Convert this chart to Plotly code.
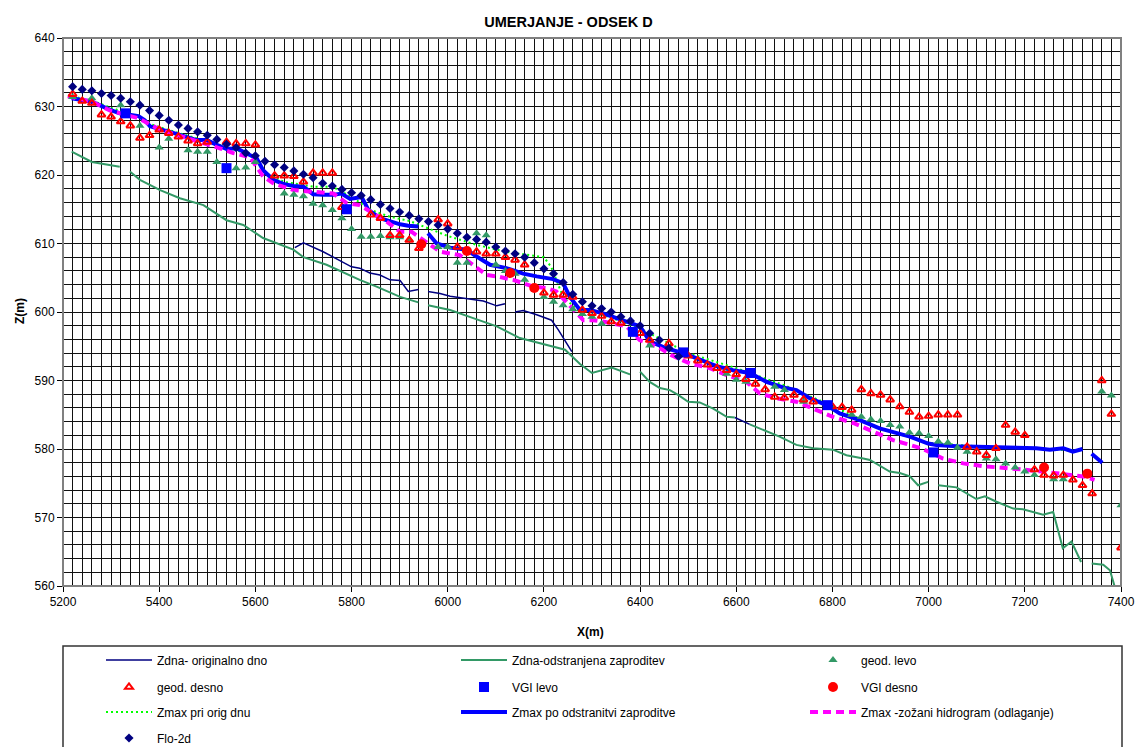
import plotly.graph_objects as go

# ---------------- data ----------------
flo_x = [5220, 5240, 5260, 5280, 5300, 5320, 5340, 5360, 5380, 5400, 5420, 5440, 5460, 5480, 5500, 5520,
         5540, 5560, 5580, 5600, 5620, 5640, 5660, 5680, 5700, 5720, 5740, 5760, 5780, 5800, 5820, 5840,
         5860, 5880, 5900, 5920, 5940, 5960, 5980, 6000, 6020, 6040, 6060, 6080, 6100, 6120, 6140, 6160,
         6180, 6200, 6220, 6240, 6260, 6280, 6300, 6320, 6340, 6360, 6380, 6400, 6420, 6440, 6460, 6480]
flo_z = [632.9, 632.5, 632.3, 631.9, 631.6, 631.2, 630.7, 630.2, 629.4, 628.7, 628.0, 627.3, 626.8, 626.3, 625.8, 625.2,
         624.5, 624.0, 623.2, 622.8, 622.0, 621.5, 621.1, 620.6, 620.1, 619.6, 618.8, 618.4, 617.9, 617.4, 617.0, 616.4,
         615.7, 615.1, 614.6, 614.1, 613.6, 613.2, 612.7, 612.1, 611.5, 610.9, 610.6, 610.2, 609.5, 608.9, 608.5, 608.0,
         607.2, 606.3, 605.6, 604.3, 602.6, 601.5, 600.9, 600.5, 600.0, 599.3, 598.7, 598.0, 596.9, 595.9, 594.7, 593.5]

gd_x = [5220, 5240, 5260, 5280, 5300, 5320, 5340, 5360, 5380, 5400, 5420, 5440, 5460, 5480, 5500, 5540,
        5560, 5580, 5600, 5640, 5660, 5680, 5700, 5720, 5740, 5760, 5780, 5840, 5860, 5880, 5900, 5920,
        5940, 5980, 6000, 6020, 6060, 6080, 6100, 6120, 6140, 6160, 6200, 6220, 6240, 6260, 6280, 6300,
        6320, 6340, 6360, 6400, 6420, 6460, 6500, 6520, 6540, 6560, 6580, 6600, 6620, 6640, 6660, 6680,
        6700, 6720, 6740, 6760, 6800, 6820, 6840, 6860, 6880, 6900, 6920, 6940, 6960, 6980, 7000, 7020,
        7040, 7060, 7080, 7100, 7120, 7140, 7160, 7180, 7200, 7220, 7240, 7260, 7280, 7300, 7320, 7340,
        7360, 7380, 7400]
gd_z = [631.8, 630.8, 630.5, 628.8, 628.5, 627.8, 627.2, 625.4, 625.8, 626.6, 626.1, 625.6, 625.0, 624.6, 624.8, 624.8,
        624.6, 624.6, 624.4, 619.9, 619.9, 619.8, 619.0, 620.3, 620.3, 620.3, 615.3, 614.2, 613.7, 611.2, 611.2, 610.5,
        609.3, 613.5, 612.9, 609.5, 608.8, 608.5, 608.5, 608.0, 607.6, 606.9, 602.8, 602.5, 602.5, 602.2, 600.3, 599.8,
        599.4, 598.6, 598.4, 596.9, 595.9, 595.4, 593.6, 592.9, 592.3, 591.8, 591.5, 590.9, 590.2, 589.5, 588.7, 587.6,
        587.5, 587.9, 587.2, 586.9, 586.2, 586.1, 585.7, 588.7, 588.1, 587.9, 587.2, 586.2, 585.4, 584.7, 584.8, 585.0,
        585.0, 585.0, 580.3, 579.6, 579.1, 580.1, 583.5, 582.5, 582.0, 577.0, 576.2, 576.1, 576.2, 575.5, 574.7, 573.5,
        590.0, 585.1, 565.6]

gl_x = [5220, 5260, 5320, 5360, 5400, 5420, 5460, 5480, 5500, 5520, 5560, 5580, 5600, 5660, 5680, 5700,
        5720, 5740, 5760, 5780, 5800, 5820, 5840, 5860, 5880, 5900, 5920, 5980, 6000, 6020, 6040, 6060,
        6080, 6100, 6120, 6140, 6160, 6200, 6220, 6240, 6260, 6280, 6300, 6320, 6420, 6580, 6600, 6620,
        6680, 6700, 6740, 6840, 6860, 6880, 6900, 6920, 6940, 6960, 6980, 7000, 7020, 7040, 7060, 7080,
        7120, 7140, 7160, 7180, 7200, 7220, 7260, 7280, 7360, 7380, 7400]
gl_z = [631.4, 631.2, 630.2, 627.2, 624.0, 625.3, 623.6, 623.4, 623.4, 621.9, 621.0, 621.1, 621.9, 617.3, 617.1, 616.9,
        615.8, 615.6, 614.9, 613.7, 612.1, 611.0, 611.0, 611.1, 610.9, 610.9, 610.6, 609.5, 609.5, 607.2, 607.2, 611.5,
        611.2, 606.9, 606.0, 605.6, 604.7, 602.2, 601.5, 601.0, 600.4, 599.7, 599.3, 598.3, 595.1, 591.0, 590.1, 589.8,
        589.1, 588.6, 586.9, 585.0, 584.7, 584.3, 584.1, 583.5, 583.3, 582.4, 582.3, 581.9, 581.1, 580.9, 580.2, 579.6,
        578.6, 578.5, 577.9, 577.3, 576.7, 576.2, 575.6, 575.6, 588.4, 587.8, 571.8]

vgl_x = [5330, 5540, 5790, 6385, 6490, 6630, 6790, 7010]
vgl_z = [629.0, 621.0, 615.0, 597.1, 594.1, 591.1, 586.4, 579.5]

vgd_x = [5945, 6040, 6130, 6180, 7240, 7330]
vgd_z = [609.9, 608.9, 605.7, 603.5, 577.3, 576.4]

# Zdna - originalno dno (visible parts)
orig_x = [5682, 5700, 5741, 5776, 5800, 5817, 5838, 5859, 5880, 5901, 5918, 5939, None,
          5959, 5984, 6005, 6039, 6074, 6102, 6119, None,
          6140, 6157, 6185, 6216, 6230, 6258, None, 6597, 6628]
orig_z = [609.4, 610.1, 608.8, 607.5, 606.6, 606.4, 605.7, 605.4, 604.7, 604.6, 603.0, 603.3, None,
          603.0, 602.7, 602.3, 602.0, 601.6, 600.9, 601.2, None,
          600.0, 600.2, 599.6, 598.8, 597.4, 594.2, None, 584.6, 583.6]

# Zdna - odstranjena zaproditev
bed_x = [5218, 5260, 5318, None, 5339, 5360, 5402, 5443, 5492, 5540, 5575, 5616, 5679, 5700, 5748, 5779,
         5817, 5852, 5901, 5939, None, 5959, 6005, 6053, 6102, 6150, 6202, 6244, 6275, 6300, 6341, 6379, None,
         6400, 6420, 6441, 6462, 6479, 6500, 6524, 6552, 6580, 6597, None, 6628, 6656, 6690, 6725, 6760,
         6801, 6829, 6864, 6878, 6919, 6940, 6961, 6978, 6999, None, 7020, 7058, 7099, 7117, 7141, 7176,
         7196, 7238, 7259, 7279, 7297, 7317, None, 7339, 7363, 7377, 7389]
bed_z = [623.4, 621.9, 621.2, None, 620.5, 619.3, 617.8, 616.6, 615.6, 613.4, 612.7, 610.8, 609.1, 608.0, 606.9, 605.9,
         604.7, 603.7, 602.2, 601.4, None, 601.0, 600.3, 599.1, 597.9, 596.2, 595.2, 594.5, 592.4, 591.1, 591.9, 590.9, None,
         591.3, 589.8, 588.9, 588.6, 587.9, 586.9, 586.8, 585.9, 584.7, 584.6, None, 583.6, 582.8, 581.8, 580.6, 580.1,
         579.9, 579.1, 578.6, 578.4, 576.7, 576.5, 576.0, 574.7, 575.2, None, 574.7, 574.4, 572.7, 573.1, 572.3, 571.3,
         571.2, 570.4, 570.8, 565.5, 566.5, 563.5, None, 563.3, 563.1, 562.3, 559.4]

# Zmax pri orig dnu
zo_x = [5210, 5260, 5300, 5360, 5380, 5400, 5480, 5540, 5600, 5620, 5660, 5700, 5720, 5760, 5800, 5840,
        5880, 5920, 5960, 6000, 6060, 6120, 6200, 6215, 6240, 6270, 6300, 6400, 6500, 6600, 6700, 6800,
        6900, 7000, 7100, 7220, 7300]
zo_z = [631.6, 630.9, 629.8, 628.5, 627.5, 627.0, 625.3, 624.1, 622.7, 620.3, 619.0, 618.5, 618.3, 618.3, 616.8, 614.9,
        613.9, 613.3, 612.2, 611.1, 609.8, 608.8, 608.0, 606.6, 602.2, 600.3, 600.2, 597.6, 594.0, 591.8, 589.3, 586.3,
        583.0, 580.9, 580.4, 580.1, 579.8]

# Zmax po odstranitvi zaproditve
zr_x = [5218, 5260, 5298, 5318, 5357, 5370, 5381, 5402, 5436, 5478, 5499, 5520, 5540, 5561, 5582, 5603,
        5616, 5637, 5658, 5679, 5700, 5720, 5741, 5762, 5779, 5797, 5821, 5835, 5859, 5880, 5901, 5918, 5939, None,
        5959, 5977, 6005, 6039, 6060, 6088, 6122, 6157, 6185, 6219, 6240, 6254, 6275, 6296, 6323, 6351,
        6379, 6400, 6420, 6455, 6490, 6524, 6559, 6593, 6628, 6663, 6697, 6725, 6753, 6788, 6815, 6857,
        6898, 6940, 6961, 6999, 7016, 7058, 7113, 7169, 7224, 7252, 7280, 7300, 7320, None, 7339, 7361]
zr_z = [631.2, 630.7, 629.5, 629.0, 628.6, 628.0, 627.1, 626.7, 626.0, 625.1, 625.1, 624.4, 623.8, 623.9, 623.2, 622.4,
        620.7, 619.3, 618.7, 618.4, 618.3, 617.2, 617.1, 617.1, 617.3, 616.5, 616.8, 614.9, 613.7, 613.2, 612.8, 612.6, 612.5, None,
        611.5, 610.0, 609.4, 609.1, 608.1, 606.9, 606.4, 605.6, 605.2, 604.8, 604.2, 602.2, 600.3, 600.3, 599.8, 599.1,
        598.3, 597.9, 595.7, 594.7, 594.0, 593.0, 592.1, 591.5, 591.1, 589.8, 589.0, 588.6, 587.4, 586.4, 585.2, 584.2,
        583.0, 582.2, 581.8, 580.8, 580.6, 580.4, 580.3, 580.2, 580.1, 579.9, 580.1, 579.6, 580.0, None, 579.3, 578.0]

# Zmax - zozani hidrogram (odlaganje)
zh_x = [5210, 5260, 5298, 5356, 5402, 5478, 5526, 5554, 5589, 5616, 5637, 5679, 5720, 5762, 5790, 5817,
        5873, 5901, 5925, 5984, 6025, 6081, 6102, 6136, 6178, 6206, 6226, 6254, 6282, 6302, 6323, 6372,
        6399, 6437, 6465, 6503, 6545, 6580, 6621, 6649, 6684, 6725, 6760, 6801, 6843, 6885, 6926, 6961,
        6985, 7030, 7072, 7113, 7155, 7196, 7237, 7279, 7321, 7345]
zh_z = [631.5, 630.7, 629.4, 628.3, 626.6, 625.0, 623.9, 623.2, 622.6, 619.8, 618.8, 617.8, 617.6, 617.3, 615.9, 615.6,
        613.2, 611.7, 611.7, 608.8, 608.3, 605.4, 605.2, 604.7, 603.7, 603.5, 603.0, 600.8, 598.8, 598.8, 598.6, 597.9,
        595.9, 594.9, 593.7, 592.5, 591.8, 590.8, 589.8, 588.1, 587.4, 586.9, 585.9, 584.7, 583.8, 582.5, 581.3, 580.6,
        580.1, 578.6, 577.9, 577.5, 577.3, 577.0, 576.7, 576.4, 576.0, 575.5]

x_ticks = [5200, 5400, 5600, 5800, 6000, 6200, 6400, 6600, 6800, 7000, 7200, 7400]
y_ticks = [560, 570, 580, 590, 600, 610, 620, 630, 640]

# ---------------- figure ----------------
FONT = "Liberation Sans, Arial, sans-serif"
NAVY = "#000080"
SEA = "#339966"

W, H = 1137, 747
L, R, T, B = 63, 1121, 38, 586
ph = B - T
pw = R - L


def py2paper(py):
    return (B - py) / ph


def px2paper(px):
    return (px - L) / pw


# legend slot for every series: (legend id, left x of the item in px, row centre y in px)
COLS = [101, 456, 805]
ROWS = [660, 687, 712, 738]
slots = {
    "Zdna- originalno dno": ("legend", COLS[0], ROWS[0]),
    "Zdna-odstranjena zaproditev": ("legend2", COLS[1], ROWS[0]),
    "geod. levo": ("legend3", COLS[2], ROWS[0]),
    "geod. desno": ("legend4", COLS[0], ROWS[1]),
    "VGI levo": ("legend5", COLS[1], ROWS[1]),
    "VGI desno": ("legend6", COLS[2], ROWS[1]),
    "Zmax pri orig dnu": ("legend7", COLS[0], ROWS[2]),
    "Zmax po odstranitvi zaproditve": ("legend8", COLS[1], ROWS[2]),
    "Zmax -zožani hidrogram (odlaganje)": ("legend9", COLS[2], ROWS[2]),
    "Flo-2d": ("legend10", COLS[0], ROWS[3]),
}

fig = go.Figure()


def add(x, y, name, **kw):
    fig.add_trace(go.Scatter(x=x, y=y, name=name, legend=slots[name][0], **kw))


add(orig_x, orig_z, "Zdna- originalno dno", mode="lines", line=dict(color=NAVY, width=1.5))
add(bed_x, bed_z, "Zdna-odstranjena zaproditev", mode="lines", line=dict(color=SEA, width=2))
add(zo_x, zo_z, "Zmax pri orig dnu", mode="lines", line=dict(color="#00FF00", width=2, dash="2px,3px"))
add(zr_x, zr_z, "Zmax po odstranitvi zaproditve", mode="lines", line=dict(color="#0000FF", width=4))
add(zh_x, zh_z, "Zmax -zožani hidrogram (odlaganje)", mode="lines",
    line=dict(color="#FF00FF", width=4, dash="8px,5px"))
add(gl_x, gl_z, "geod. levo", mode="markers", marker=dict(symbol="triangle-up", size=8, color=SEA))
add(gd_x, gd_z, "geod. desno", mode="markers",
    marker=dict(symbol="triangle-up-open", size=7, color="#FF0000", line=dict(width=2, color="#FF0000")))
add(vgl_x, vgl_z, "VGI levo", mode="markers", marker=dict(symbol="square", size=10, color="#0000FF"))
add(vgd_x, vgd_z, "VGI desno", mode="markers", marker=dict(symbol="circle", size=10, color="#FF0000"))
add(flo_x, flo_z, "Flo-2d", mode="markers", marker=dict(symbol="diamond", size=7, color=NAVY))

legends = {}
for name, (lid, lx, ly) in slots.items():
    legends[lid] = dict(orientation="h", x=px2paper(lx), xanchor="left",
                        y=py2paper(ly), yanchor="middle", itemwidth=46,
                        bgcolor="rgba(0,0,0,0)", borderwidth=0,
                        font=dict(family=FONT, size=12, color="black"))

fig.update_layout(
    width=W, height=H,
    margin=dict(l=L, r=W - R, t=T, b=H - B, pad=0, autoexpand=False),
    paper_bgcolor="white", plot_bgcolor="white",
    font=dict(family=FONT, size=12, color="black"),
    title=dict(text="<b>UMERJANJE - ODSEK D</b>", x=0.5, xref="container", xanchor="center",
               y=1 - 22 / H, yref="container", yanchor="middle",
               font=dict(family=FONT, size=14.5, color="black")),
    showlegend=True,
    xaxis=dict(range=[5200, 7400], tickvals=x_ticks, ticktext=[str(v) for v in x_ticks],
               showgrid=True, gridcolor="#111111", gridwidth=1,
               minor=dict(dtick=20, tick0=5200, showgrid=True, gridcolor="#111111", gridwidth=1,
                          ticks="inside", ticklen=3, tickcolor="black"),
               showline=True, linecolor="black", linewidth=1,
               ticks="outside", ticklen=5, tickcolor="black",
               tickfont=dict(family=FONT, size=12, color="black"), zeroline=False),
    yaxis=dict(range=[560, 640], tickvals=y_ticks, ticktext=[str(v) for v in y_ticks],
               showgrid=True, gridcolor="#111111", gridwidth=1,
               minor=dict(dtick=2, tick0=560, showgrid=True, gridcolor="#111111", gridwidth=1),
               showline=True, linecolor="black", linewidth=1,
               ticks="outside", ticklen=5, tickcolor="black",
               tickfont=dict(family=FONT, size=12, color="black"), zeroline=False),
    shapes=[
        dict(type="rect", xref="paper", yref="paper", x0=0, x1=1, y0=0, y1=1,
             line=dict(color="#808080", width=2), fillcolor="rgba(0,0,0,0)", layer="above"),
        dict(type="rect", xref="paper", yref="paper", x0=0, x1=px2paper(1122), y0=py2paper(646),
             y1=py2paper(770), line=dict(color="#333333", width=1.5), fillcolor="rgba(0,0,0,0)"),
    ],
    annotations=[
        dict(text="<b>X(m)</b>", xref="paper", yref="paper", x=px2paper(590), y=py2paper(632),
             showarrow=False, xanchor="center", yanchor="middle",
             font=dict(family=FONT, size=12, color="black")),
        dict(text="<b>Z(m)</b>", xref="paper", yref="paper", x=px2paper(20), y=py2paper(311),
             showarrow=False, xanchor="center", yanchor="middle", textangle=-90,
             font=dict(family=FONT, size=12, color="black")),
    ],
    **legends,
)

fig.write_html("out.html")
